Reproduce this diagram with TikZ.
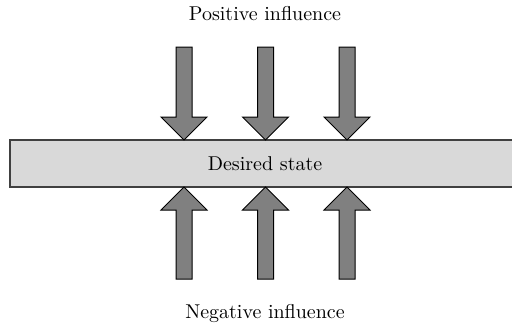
\documentclass[tikz,border=0pt]{standalone}
\begin{document}
\begin{tikzpicture}[x=0.5pt,y=-0.5pt,
		blockarrow/.style={draw=black,fill=black!50,line width=0.5pt,line join=miter},
		statebox/.style={draw=black!75,fill=black!15,line width=0.6pt}]
		\useasboundingbox (0,0) rectangle (512,327);
		\draw[statebox] (10,140) rectangle (514,187);
		\node (state) at (265,163.5) {Desired state};
		\node[anchor=base] (pos) at (265,20) {Positive influence};
		\node[anchor=base] (neg) at (265,318) {Negative influence};
		
		\foreach \cx in {184,265.5,347}{
			\draw[blockarrow] (\cx-8,47)--(\cx+8,47)--(\cx+8,117)--(\cx+23,117)--(\cx,140)--(\cx-23,117)--(\cx-8,117)--cycle;
			\draw[blockarrow] (\cx-8,279)--(\cx+8,279)--(\cx+8,210)--(\cx+23,210)--(\cx,187)--(\cx-23,210)--(\cx-8,210)--cycle;
		}
	\end{tikzpicture}
\end{document}
